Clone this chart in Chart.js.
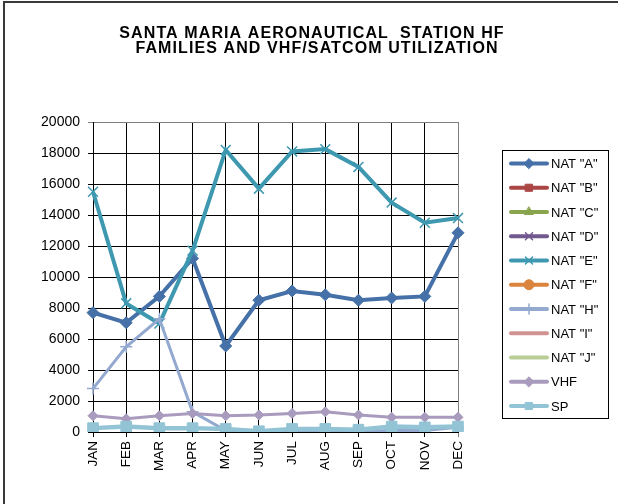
<!DOCTYPE html>
<html>
<head>
<meta charset="utf-8">
<script src="https://cdn.jsdelivr.net/npm/chart.js@4.4.1/dist/chart.umd.min.js"></script>
<style>
  html, body { margin: 0; padding: 0; background: #fff; }
  #wrap { width: 618px; height: 504px; }
</style>
</head>
<body>
<div id="wrap"><canvas id="myChart" width="618" height="504"></canvas></div>
<script>
// months on the x axis
var months = ['JAN', 'FEB', 'MAR', 'APR', 'MAY', 'JUN', 'JUL', 'AUG', 'SEP', 'OCT', 'NOV', 'DEC'];

// monthly utilization per family
var natA = [7700, 7050, 8750, 11200, 5550, 8500, 9100, 8850, 8500, 8650, 8750, 12850];
var natB = [null, null, null, null, null, null, null, null, null, null, null, null];
var natC = [null, null, null, null, null, null, null, null, null, null, null, null];
var natD = [null, null, null, null, null, null, null, null, null, null, null, null];
var natE = [15500, 8300, 7000, 11700, 18200, 15700, 18100, 18250, 17100, 14800, 13500, 13800];
var natF = [null, null, null, null, null, null, null, null, null, null, null, null];
var natH = [2800, 5500, 7300, 1300, 100, 50, 50, 50, 50, 100, 100, 300];
var natI = [null, null, null, null, null, null, null, null, null, null, null, null];
var natJ = [null, null, null, null, null, null, null, null, null, null, null, null];
var vhf = [1050, 850, 1050, 1200, 1050, 1100, 1200, 1300, 1100, 950, 950, 950];
var sp = [250, 350, 250, 250, 200, 50, 200, 200, 150, 350, 300, 350];

var yTicks = [0, 2000, 4000, 6000, 8000, 10000, 12000, 14000, 16000, 18000, 20000];

var titleLines = ['SANTA MARIA AERONAUTICAL  STATION HF', 'FAMILIES AND VHF/SATCOM UTILIZATION'];

var FONT = 'Arial, "Liberation Sans", sans-serif';

function series(label, data, color, style, radius, width, order) {
    return {
        label: label,
        data: data,
        borderColor: color,
        backgroundColor: color,
        borderWidth: width,
        pointStyle: style,
        pointRadius: radius,
        pointHoverRadius: radius,
        pointBorderWidth: style === 'crossRot' || style === 'cross' ? 1.5 : 1,
        pointBorderColor: color,
        pointBackgroundColor: color,
        tension: 0,
        yAxisID: 'y',
        order: order
    };
}

var datasets = [
    series('NAT "A"', natA, '#4571a8', 'rectRot', 6, 4, 11),
    series('NAT "B"', natB, '#aa4643', 'rect', 6, 4, 10),
    series('NAT "C"', natC, '#89a54e', 'triangle', 5, 4, 9),
    series('NAT "D"', natD, '#71588f', 'crossRot', 5, 4, 8),
    series('NAT "E"', natE, '#3d98b0', 'crossRot', 7, 4, 7),
    series('NAT "F"', natF, '#db843d', 'circle', 5, 4, 6),
    series('NAT "H"', natH, '#93a9cf', 'cross', 6, 3, 5),
    series('NAT "I"', natI, '#d19392', false, 0, 3, 4),
    series('NAT "J"', natJ, '#b9cd96', false, 0, 3, 3),
    series('VHF', vhf, '#a99bbd', 'rectRot', 5, 3, 2),
    series('SP', sp, '#92c4d5', 'rect', 7.5, 4.5, 1)
];

// white background, frame on top/left, and the title
var framePlugin = {
    id: 'frame',
    beforeDraw: function (chart) {
        var ctx = chart.ctx;
        ctx.save();
        ctx.fillStyle = '#ffffff';
        ctx.fillRect(0, 0, chart.width, chart.height);
        ctx.fillStyle = '#3a3a3a';
        ctx.fillRect(4, 1, chart.width - 4, 2);
        ctx.fillRect(3, 1, 2, chart.height - 1);

        ctx.fillStyle = '#000';
        ctx.font = 'bold 16px ' + FONT;
        ctx.letterSpacing = '1.1px';
        ctx.textAlign = 'center';
        ctx.textBaseline = 'middle';
        ctx.fillText(titleLines[0], 312, 33.5);
        ctx.fillText(titleLines[1], 317, 49);
        ctx.restore();
    }
};

// excel-like legend box with line + marker samples
var legendBoxPlugin = {
    id: 'legendBox',
    afterDraw: function (chart) {
        var ctx = chart.ctx;
        var left = 502, top = 150, w = 106, h = 268;
        var rowH = 24.25, firstY = 163.5;
        ctx.save();
        ctx.strokeStyle = '#000';
        ctx.lineWidth = 1;
        ctx.strokeRect(left + 0.5, top + 0.5, w, h);
        chart.data.datasets.forEach(function (ds, i) {
            var y = firstY + i * rowH;
            ctx.strokeStyle = ds.borderColor;
            ctx.lineWidth = 4;
            ctx.lineCap = 'round';
            ctx.beginPath();
            ctx.moveTo(511, y);
            ctx.lineTo(547, y);
            ctx.stroke();
            if (ds.pointStyle) {
                ctx.fillStyle = ds.pointBackgroundColor;
                ctx.strokeStyle = ds.pointBorderColor;
                ctx.lineWidth = ds.pointBorderWidth;
                Chart.helpers.drawPoint(ctx, {
                    pointStyle: ds.pointStyle,
                    radius: Math.min(ds.pointRadius, 5),
                    rotation: 0,
                    borderWidth: ds.pointBorderWidth
                }, 529, y);
            }
            ctx.fillStyle = '#000';
            ctx.font = '13px ' + FONT;
            ctx.textAlign = 'left';
            ctx.textBaseline = 'middle';
            ctx.fillText(ds.label, 551, y + 1);
        });
        ctx.restore();
    }
};

var ctx = document.getElementById('myChart').getContext('2d');
var myChart = new Chart(ctx, {
    type: 'line',
    data: {
        labels: months,
        datasets: datasets
    },
    plugins: [framePlugin, legendBoxPlugin],
    options: {
        responsive: false,
        animation: false,
        events: [],
        layout: {
            padding: { top: 122, left: 0, right: 0, bottom: 0 }
        },
        plugins: {
            legend: { display: false },
            tooltip: { enabled: false },
            title: { display: false }
        },
        scales: {
            x: {
                offset: false,
                grid: {
                    color: function (c) { return c.index === months.length - 1 ? '#808080' : '#000'; },
                    lineWidth: 1,
                    tickLength: 5
                },
                border: { color: '#000', width: 1 },
                ticks: {
                    autoSkip: false,
                    maxRotation: 90,
                    minRotation: 90,
                    color: '#000',
                    padding: 4,
                    font: { family: FONT, size: 13.5 }
                },
                afterFit: function (scale) { scale.height = 72; }
            },
            y: {
                min: 0,
                max: 20000,
                afterBuildTicks: function (scale) {
                    scale.ticks = yTicks.map(function (v) { return { value: v }; });
                },
                grid: {
                    color: function (c) { return c.tick && c.tick.value === 20000 ? '#808080' : '#000'; },
                    lineWidth: 1,
                    tickLength: 5
                },
                border: { color: '#000', width: 1 },
                ticks: {
                    color: '#000',
                    padding: 8,
                    font: { family: FONT, size: 14 },
                    callback: function (v) { return String(v); }
                },
                afterFit: function (scale) { scale.width = 93; }
            },
            // empty right-hand box that keeps room for the legend
            yRight: {
                position: 'right',
                display: true,
                min: 0,
                max: 1,
                grid: { display: false, drawTicks: false },
                border: { display: false },
                ticks: { display: false },
                afterFit: function (scale) { scale.width = 160; }
            }
        }
    }
});
</script>
</body>
</html>
